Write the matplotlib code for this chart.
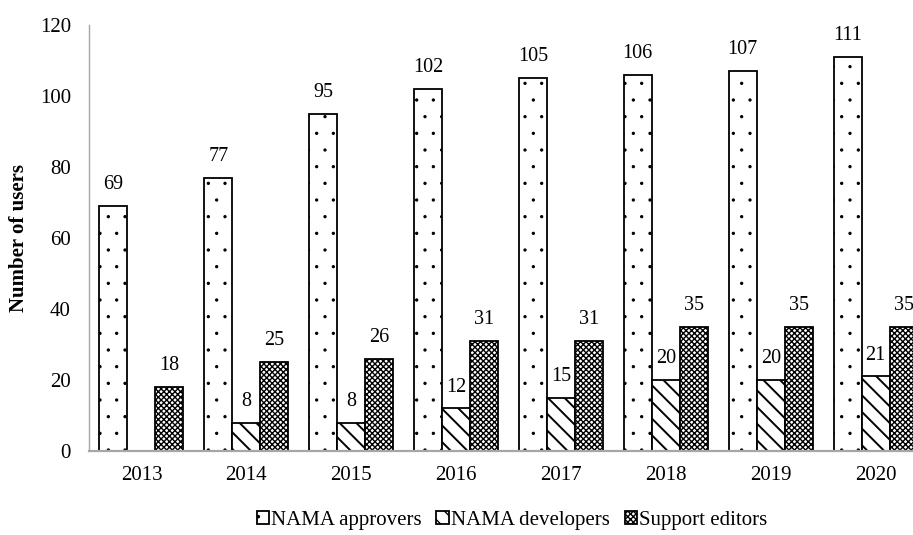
import numpy as np
import matplotlib
matplotlib.use("Agg")
import matplotlib.pyplot as plt
import matplotlib.hatch as mhatch

plt.rcParams['font.family'] = ['Liberation Serif', 'DejaVu Serif']
# smaller dots for the '.' hatch
mhatch.SmallFilledCircles.size = 0.065

years = ['2013', '2014', '2015', '2016', '2017', '2018', '2019', '2020']
approvers = [69, 77, 95, 102, 105, 106, 107, 111]
developers = [0, 8, 8, 12, 15, 20, 20, 21]
support = [18, 25, 26, 31, 31, 35, 35, 35]

# name, values, hatch, hatch line width
series = [
    ('NAMA approvers', approvers, '.', 0.8),
    ('NAMA developers', developers, '\\\\', 1.4),
    ('Support editors', support, 'xxxxxx', 1.0),
]

fig = plt.figure(figsize=(9.13, 5.35), dpi=100)
ax = fig.add_axes([89 / 913, 1 - 451 / 535, 839 / 913, 426 / 535])

x = np.arange(len(years))
w = 0.267
for i, (name, vals, hatch, hlw) in enumerate(series):
    pos = x + (i - 1) * w
    with plt.rc_context({'hatch.linewidth': hlw}):
        ax.bar(pos, vals, width=w, color='white', edgecolor='black',
               linewidth=1.3, hatch=hatch, label=name)
    for xp, v in zip(pos, vals):
        if v == 0:
            continue
        ax.annotate(str(v), (xp, v), xytext=(0, 8.5), textcoords='offset points',
                    ha='center', va='bottom', fontsize=14.5)

ax.set_xlim(-0.5, len(years) - 0.5)
ax.set_ylim(0, 120)
ax.set_yticks(range(0, 121, 20))
ax.set_xticks(x)
ax.set_xticklabels(years)
ax.tick_params(axis='both', length=0, labelsize=15)
ax.tick_params(axis='y', pad=13)
ax.tick_params(axis='x', pad=11)

for side in ['top', 'right']:
    ax.spines[side].set_visible(False)
ax.spines['left'].set_color('#a6a6a6')
ax.spines['left'].set_linewidth(1.0)
ax.spines['bottom'].set_color('#a6a6a6')
ax.spines['bottom'].set_linewidth(1.6)

ax.set_ylabel('Number of users', fontsize=15, fontweight='bold', labelpad=8)

handles, labels = ax.get_legend_handles_labels()
fig.legend(handles, labels, loc='lower center', bbox_to_anchor=(512 / 913, -0.025),
           ncol=3, frameon=False, fontsize=15, handlelength=0.6, handleheight=0.6,
           handletextpad=0.1, columnspacing=0.7)

fig.savefig('out.png', dpi=100)
